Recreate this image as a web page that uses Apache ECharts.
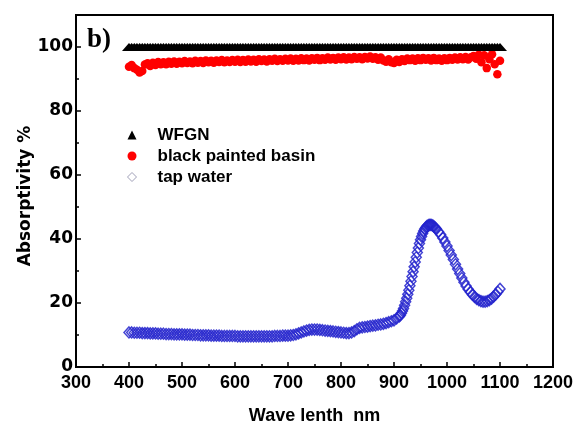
<!DOCTYPE html>
<html><head><meta charset="utf-8">
<script src="https://cdn.jsdelivr.net/npm/echarts@6/dist/echarts.min.js"></script>
<style>html,body{margin:0;padding:0;background:#fff}#c{width:581px;height:423px}</style>
</head><body><div id="c"></div>
<script>
// x-axis / y-axis tick settings
const xMin = 300, xMax = 1200, xStep = 100;
const yMin = 0, yMax = 110, yStep = 20;

// sampling grid of the WFGN and black-basin spectra (nm)
const gridStart = 400, gridStep = 5;

// WFGN absorptivity (%)
const wfgnValue = [
100,100,100,100,100,100,100,100,100,100,
100,100,100,100,100,100,100,100,100,100,
100,100,100,100,100,100,100,100,100,100,
100,100,100,100,100,100,100,100,100,100,
100,100,100,100,100,100,100,100,100,100,
100,100,100,100,100,100,100,100,100,100,
100,100,100,100,100,100,100,100,100,100,
100,100,100,100,100,100,100,100,100,100,
100,100,100,100,100,100,100,100,100,100,
100,100,100,100,100,100,100,100,100,100,
100,100,100,100,100,100,100,100,100,100,
100,100,100,100,100,100,100,100,100,100,
100,100,100,100,100,100,100,100,100,100,
100,100,100,100,100,100,100,100,100,100,
100];

// black painted basin absorptivity (%)
const basinValue = [
93.8,94.4,93.4,92.9,92.0,92.5,94.5,94.9,94.1,95.1,94.4,95.3,94.6,95.2,94.6,95.4,94.8,95.5,94.8,95.4,
94.9,95.6,95.0,95.5,94.9,95.7,95.1,95.6,95.0,95.8,95.2,95.7,95.1,95.8,95.3,95.9,95.2,95.8,95.3,95.9,
95.4,96.0,95.3,95.9,95.4,96.1,95.5,96.0,95.4,96.2,95.6,96.1,95.5,96.2,95.7,96.3,95.6,96.2,95.7,96.3,
95.8,96.4,95.7,96.3,95.8,96.5,95.9,96.4,95.8,96.5,96.0,96.6,95.9,96.5,96.0,96.7,96.1,96.6,96.0,96.7,
96.2,96.8,96.1,96.7,96.2,96.9,96.3,96.8,96.2,96.9,96.4,97.0,96.3,96.8,96.0,96.7,95.8,95.4,96.2,95.2,
95.0,96.0,95.3,96.2,95.6,96.4,95.9,96.4,95.7,96.5,95.9,96.6,96.0,96.5,95.8,96.6,95.9,96.4,95.7,96.5,
95.9,96.6,96.0,96.7,96.1,96.8,96.2,96.9,96.1,96.8,97.2,96.3,97.6,95.2,97.4,93.4,96.2,97.7,94.6,91.5,
95.7];

// tap water spectrum (nm, %)
const tapWave = [
400,405,410,415,420,425,430,435,440,445,450,455,460,465,470,475,480,485,490,495,
500,505,510,515,520,525,530,535,540,545,550,555,560,565,570,575,580,585,590,595,
600,605,610,615,620,625,630,635,640,645,650,655,660,665,670,675,680,685,690,695,
700,705,710,715,720,725,730,735,740,745,750,755,760,765,770,775,780,785,790,795,
800,805,810,815,820,825,830,835,840,845,850,855,860,865,870,875,880,885,890,895,
900,905,910,
912,914,916,918,920,922,924,926,928,930,932,934,936,938,940,942,944,946,948,950,
952,954,956,958,960,962,964,966,968,970,972,974,976,978,980,
984,988,992,996,1000,1004,1008,1012,1016,1020,1024,1028,1032,1036,1040,1044,1048,1052,1056,1060,
1064,1068,1072,1076,1080,1084,1088,1092,1096,1100];
const tapValue = [
10.8,10.8,10.7,10.7,10.7,10.6,10.6,10.6,10.5,10.5,10.5,10.4,10.4,10.4,10.3,10.3,10.3,10.2,10.2,10.2,
10.2,10.1,10.1,10.1,10.0,10.0,10.0,9.9,9.9,9.9,9.9,9.8,9.8,9.8,9.8,9.7,9.7,9.7,9.7,9.7,
9.7,9.6,9.6,9.6,9.6,9.6,9.6,9.6,9.6,9.6,9.6,9.6,9.6,9.6,9.6,9.7,9.7,9.7,9.8,9.8,
9.8,9.9,10.0,10.2,10.5,10.8,11.1,11.4,11.6,11.7,11.7,11.7,11.6,11.5,11.4,11.3,11.2,11.1,11.0,10.9,
10.8,10.7,10.6,10.6,10.8,11.2,11.8,12.2,12.4,12.5,12.6,12.8,12.9,13.0,13.2,13.3,13.5,13.7,14.0,14.3,
14.6,15.2,15.8,
16.2,16.8,17.5,18.3,19.3,20.4,21.5,22.7,24.0,25.4,26.8,28.3,29.8,31.3,32.8,34.3,35.8,37.2,38.6,39.8,
40.8,41.7,42.5,43.1,43.6,44.0,44.2,44.4,44.4,44.4,44.3,44.1,43.8,43.5,43.1,
42.3,41.4,40.3,39.1,37.8,36.4,35.0,33.6,32.1,30.6,29.2,27.8,26.5,25.3,24.3,23.4,22.6,21.9,21.3,20.9,
20.6,20.4,20.4,20.6,20.9,21.4,22.0,22.7,23.5,24.4];

const seriesNames = ['WFGN', 'black painted basin', 'tap water'];

const onGrid = vals => vals.map((v, i) => [gridStart + i * gridStep, v]);
const tapData = tapWave.map((w, i) => [w, tapValue[i]]);

const chart = echarts.init(document.getElementById('c'), null, {renderer: 'canvas'});
chart.setOption({
  backgroundColor: '#fff',
  animation: false,
  title: {
    text: 'b)', left: 87, top: 27, padding: 0,
    textStyle: {fontFamily: 'Liberation Serif', fontWeight: 'bold', fontSize: 27, color: '#000'}
  },
  legend: {
    orient: 'vertical', left: 127, top: 126, padding: 0, itemWidth: 9, itemHeight: 9, itemGap: 3,
    textStyle: {fontFamily: 'Liberation Sans', fontWeight: 'bold', fontSize: 17, color: '#000', lineHeight: 18, padding: [0, 0, 0, 16]},
    data: [
      {name: seriesNames[0]},
      {name: seriesNames[1]},
      {name: seriesNames[2], itemStyle: {color: '#fff', borderColor: '#a0a0b8', borderWidth: 1}}
    ]
  },
  grid: {left: 76, right: 28, top: 15, bottom: 56, outerBoundsMode: 'none', containLabel: false,
    show: true, borderColor: '#000', borderWidth: 2, backgroundColor: 'transparent'},
  xAxis: {
    type: 'value', min: xMin, max: xMax, interval: xStep,
    name: 'Wave lenth  nm', nameLocation: 'middle', nameGap: 40, nameMoveOverlap: false,
    nameTextStyle: {color: '#000', fontWeight: 'bold', fontFamily: 'Liberation Sans', fontSize: 18},
    axisLine: {lineStyle: {color: '#000', width: 2}},
    axisTick: {inside: true, length: 5, lineStyle: {color: '#000', width: 1.5}},
    minorTick: {show: true, splitNumber: 2, length: 3, lineStyle: {color: '#000', width: 1.5}},
    splitLine: {show: false},
    axisLabel: {margin: 7, color: '#000', fontWeight: 'bold', fontFamily: 'Liberation Sans', fontSize: 18,
      formatter: v => String(v)}
  },
  yAxis: [{
    type: 'value', min: yMin, max: yMax, interval: yStep,
    name: 'Absorptivity %', nameLocation: 'middle', nameGap: 42, nameMoveOverlap: false,
    nameTextStyle: {color: '#000', fontWeight: 'bold', fontFamily: 'DejaVu Sans', fontSize: 17, padding: [0, 10, 0, 0]},
    axisLine: {lineStyle: {color: '#000', width: 2}},
    axisTick: {inside: true, length: 5, lineStyle: {color: '#000', width: 1.5}},
    splitLine: {show: false},
    axisLabel: {margin: 3, showMaxLabel: false, color: '#000', fontWeight: 'bold', fontFamily: 'DejaVu Sans', fontSize: 17,
      formatter: v => String(v)}
  }, {
    type: 'value', min: yMin, max: yMax, interval: yStep / 2, position: 'left',
    axisLine: {show: false},
    axisTick: {inside: true, length: 3, lineStyle: {color: '#000', width: 1.5}},
    splitLine: {show: false},
    axisLabel: {show: false}
  }],
  series: [{
    name: seriesNames[0], type: 'scatter', z: 4, symbol: 'triangle', symbolSize: [14, 8],
    itemStyle: {color: '#000', opacity: 1}, data: onGrid(wfgnValue)
  }, {
    name: seriesNames[1], type: 'scatter', z: 3, symbol: 'circle', symbolSize: 8.5,
    itemStyle: {color: '#ff0000', opacity: 1}, data: onGrid(basinValue)
  }, {
    name: seriesNames[2], type: 'scatter', z: 2, symbol: 'diamond', symbolSize: [10, 11],
    itemStyle: {color: 'rgba(0,0,0,0)', borderColor: 'rgba(35,35,205,0.85)', borderWidth: 1.5, opacity: 1},
    data: tapData
  }]
});
</script></body></html>
